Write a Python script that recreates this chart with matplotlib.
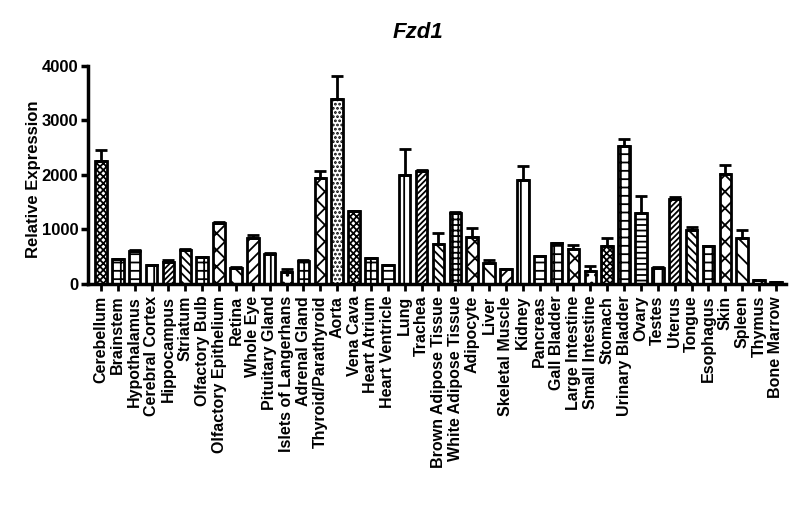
import matplotlib.pyplot as plt
import numpy as np

# --- data ---
tissues = [
    "Cerebellum", "Brainstem", "Hypothalamus", "Cerebral Cortex", "Hippocampus",
    "Striatum", "Olfactory Bulb", "Olfactory Epithelium", "Retina", "Whole Eye",
    "Pituitary Gland", "Islets of Langerhans", "Adrenal Gland", "Thyroid/Parathyroid",
    "Aorta", "Vena Cava", "Heart Atrium", "Heart Ventricle", "Lung", "Trachea",
    "Brown Adipose Tissue", "White Adipose Tissue", "Adipocyte", "Liver",
    "Skeletal Muscle", "Kidney", "Pancreas", "Gall Bladder", "Large Intestine",
    "Small Intestine", "Stomach", "Urinary Bladder", "Ovary", "Testes", "Uterus",
    "Tongue", "Esophagus", "Skin", "Spleen", "Thymus", "Bone Marrow",
]
expression = [
    2250, 450, 610, 345, 395, 620, 490, 1120, 300, 840,
    550, 220, 420, 1950, 3400, 1330, 470, 340, 1990, 2080,
    730, 1300, 870, 380, 270, 1910, 510, 750, 640, 230,
    690, 2530, 1310, 300, 1565, 995, 690, 2010, 840, 70, 35,
]
sem = [
    200, 15, 10, 5, 40, 15, 10, 10, 20, 50,
    10, 60, 20, 130, 410, 15, 15, 5, 480, 10,
    210, 20, 150, 55, 10, 260, 5, 10, 80, 100,
    160, 120, 300, 20, 35, 45, 5, 180, 145, 10, 5,
]

# fill patterns per bar (style only)
hatches = [
    "xxxxx", "++", "--", "||", "//////", "\\\\\\\\", "++", "xx", "\\\\", "///",
    "||", "..", "++", "xx", "....", "xxxxx", "++", "--", "||", "//////",
    "\\\\\\\\", "+++", "xx", "\\\\", "///", "||", "--", "++", "xx", "..",
    "xxxxx", "++", "---", "||", "//////", "\\\\\\\\", "++", "xx", "\\\\", "///", "",
]

plt.rcParams['font.family'] = ['Liberation Sans', 'DejaVu Sans']
plt.rcParams['font.weight'] = 'bold'
plt.rcParams['hatch.linewidth'] = 1.3

fig = plt.figure(figsize=(8, 5.22), dpi=100)
ax = fig.add_axes([0.11, 0.456, 0.8725, 0.4178])

x = np.arange(len(tissues))
err = [np.zeros(len(sem)), sem]
bars = ax.bar(x, expression, width=0.68, color='white', edgecolor='black',
              linewidth=2, zorder=2)
for b, h in zip(bars, hatches):
    b.set_hatch(h)
ax.errorbar(x, expression, yerr=err, fmt='none', ecolor='black',
            elinewidth=2, capsize=4, capthick=2, zorder=3)

ax.set_xlim(-0.77, len(tissues) - 0.4)
ax.set_ylim(0, 4000)
ax.set_yticks([0, 1000, 2000, 3000, 4000])
ax.set_xticks(x)
ax.set_xticklabels(tissues, rotation=90, fontsize=11.5, fontweight='bold')
ax.tick_params(axis='y', labelsize=12, width=2.5, length=5, pad=2)
ax.tick_params(axis='x', width=2, length=5)
for lab in ax.get_yticklabels():
    lab.set_fontweight('bold')

for side in ['top', 'right']:
    ax.spines[side].set_visible(False)
for side in ['left', 'bottom']:
    ax.spines[side].set_linewidth(2.5)

ax.set_ylabel('Relative Expression', fontsize=12, fontweight='bold')
ax.yaxis.set_label_coords(-0.068, 0.48)
ax.set_title('Fzd1', fontsize=16, fontweight='bold', fontstyle='italic',
             x=0.473, pad=20)

fig.savefig('out.png', dpi=100)
